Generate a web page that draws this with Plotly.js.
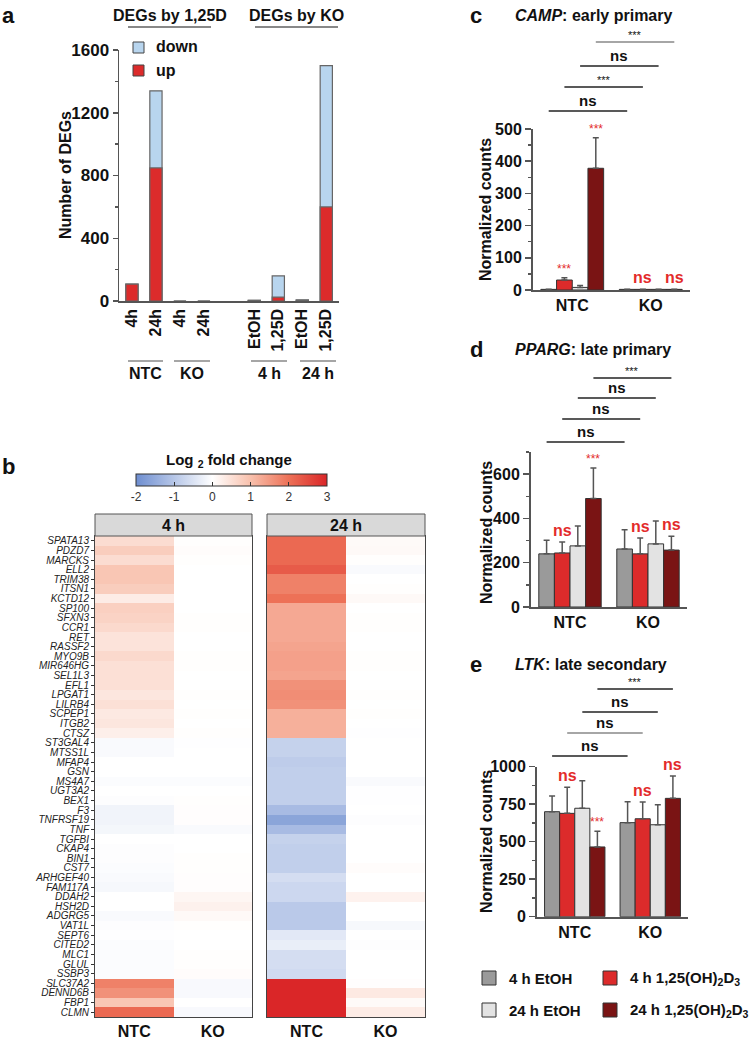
<!DOCTYPE html>
<html><head><meta charset="utf-8">
<script src="https://cdn.plot.ly/plotly-3.0.1.min.js"></script>
<style>html,body{margin:0;padding:0;background:#fff}#chart{width:751px;height:1041px}</style>
</head><body><div id="chart"></div>
<script>
// ---------------- DATA ----------------
// Panel a: number of DEGs
const degLabels = ['4h', '24h', '4h', '24h', 'EtOH', '1,25D', 'EtOH', '1,25D'];
const degUp   = [108, 848, 0, 0, 3, 25, 4, 600];
const degDown = [0, 492, 0, 0, 2, 135, 4, 900];
const degSeries = ['down', 'up'];
const degTopGroups = ['DEGs by 1,25D', 'DEGs by KO'];
const degBottomGroups = ['NTC', 'KO', '4 h', '24 h'];

// Panel b: log2 fold change heatmap
const genes = ['SPATA13','PDZD7','MARCKS','ELL2','TRIM38','ITSN1','KCTD12','SP100','SFXN3','CCR1',
  'RET','RASSF2','MYO9B','MIR646HG','SEL1L3','EFL1','LPGAT1','LILRB4','SCPEP1','ITGB2','CTSZ',
  'ST3GAL4','MTSS1L','MFAP4','GSN','MS4A7','UGT3A2','BEX1','F3','TNFRSF19','TNF','TGFBI','CKAP4',
  'BIN1','CST7','ARHGEF40','FAM117A','DDAH2','HSH2D','ADGRG5','VAT1L','SEPT6','CITED2','MLC1',
  'GLUL','SSBP3','SLC37A2','DENND6B','FBP1','CLMN'];
const lfc4hNTC = [0.55,0.8,0.55,0.9,0.9,0.8,0.3,0.75,0.7,0.6,
  0.45,0.45,0.6,0.5,0.5,0.5,0.4,0.5,0.35,0.4,0.25,
  -0.08,-0.08,0,0,-0.05,0,-0.03,-0.2,-0.2,-0.15,0,-0.03,
  -0.03,-0.05,-0.08,-0.12,0,0,-0.08,-0.03,-0.02,-0.05,-0.05,
  -0.05,-0.05,1.8,1.6,0.9,2.1];
const lfc4hKO = [0.02,0.05,0.02,0,0,0,0,0,0.02,0.02,
  0,0,0.02,0.02,0,0,0.02,0,0.02,0,0.02,
  -0.02,0,0,0,-0.05,0,0.02,0.03,0.03,-0.08,0,0,
  0.02,0.02,0.03,0.03,0.15,0.22,0.1,0.02,0,0,0.02,
  0.02,0.05,-0.1,-0.1,0,-0.1];
const lfc24hNTC = [2.1,2.1,2.1,2.3,1.8,1.8,2.0,1.3,1.3,1.3,
  1.3,1.35,1.4,1.4,1.35,1.6,1.65,1.6,1.2,1.2,1.2,
  -0.8,-0.8,-0.9,-0.85,-0.85,-0.85,-0.85,-1.2,-1.6,-1.2,-0.8,-0.85,
  -0.85,-0.85,-0.6,-0.7,-0.7,-0.95,-0.95,-0.95,-0.4,-0.3,-0.6,
  -0.6,-0.65,3.0,3.0,3.0,3.0];
const lfc24hKO = [0.08,0.1,0.02,-0.08,0,0.02,0.1,0,0.02,0.02,
  0,0,0.02,0.02,0,0,0.02,0,0.02,0,-0.02,
  0,0,0,0,-0.08,-0.02,-0.02,0,-0.03,0,0,0,
  0,0.05,0,0,0.2,0,0,-0.12,0,-0.03,0,
  0,0,0.03,0.35,0.08,0.3];
const hmCols = ['NTC', 'KO'];
const hmFacets = ['4 h', '24 h'];
const lfcTicks = [-2, -1, 0, 1, 2, 3];
const lfcTickText = ['-2', '-1', '0', '1', '2', '3'];
const lfcTitle = 'Log <sub>2</sub> fold change';

// Panels c-e: normalized counts
const groups = ['NTC', 'KO'];
const conditions = ['4 h EtOH', '4 h 1,25(OH)<sub>2</sub>D<sub>3</sub>', '24 h EtOH', '24 h 1,25(OH)<sub>2</sub>D<sub>3</sub>'];
const campNTC = [2, 31, 8, 378];
const campNTCerr = [0, 7, 6, 95];
const campKO = [2, 2, 2, 2];
const campKOerr = [0, 0, 0, 0];
const campPairSig = ['ns', '***', 'ns', '***'];
const campSigNTC = [null, '***', null, '***'];
const campSigKO = [null, 'ns', null, 'ns'];

const ppargNTC = [240, 244, 276, 490];
const ppargNTCerr = [62, 50, 90, 138];
const ppargKO = [262, 240, 285, 257];
const ppargKOerr = [87, 72, 103, 63];
const ppargPairSig = ['ns', 'ns', 'ns', '***'];
const ppargSigNTC = [null, 'ns', null, '***'];
const ppargSigKO = [null, 'ns', null, 'ns'];

const ltkNTC = [700, 689, 723, 465];
const ltkNTCerr = [105, 174, 184, 104];
const ltkKO = [627, 653, 613, 789];
const ltkKOerr = [140, 112, 134, 149];
const ltkPairSig = ['ns', 'ns', 'ns', '***'];
const ltkSigNTC = [null, 'ns', null, '***'];
const ltkSigKO = [null, 'ns', null, 'ns'];

// ---------------- STYLE / LAYOUT ----------------
const FONT = 'Liberation Sans, Arial, sans-serif';
const W = 751, H = 1041;
const px = v => v / W, py = v => 1 - v / H;
const AX = '#555';
const condColors = ['#9a9a9a', '#dc2b2b', '#e3e3e3', '#7a1414'];
const degColors = {down: '#b8d5ee', up: '#dc2b2b'};
const RED = '#e32b2b';

const traces = [];
const annotations = [];
const shapes = [];
const layout = {
  width: W, height: H, margin: {l: 0, r: 0, t: 0, b: 0},
  paper_bgcolor: '#fff', plot_bgcolor: 'rgba(0,0,0,0)',
  barmode: 'overlay', showlegend: false,
  font: {family: FONT, color: '#111'},
  annotations, shapes
};

function ann(x, y, text, opt) {
  annotations.push(Object.assign({
    xref: 'paper', yref: 'paper', x: px(x), y: py(y), text, showarrow: false,
    xanchor: 'center', yanchor: 'middle', font: {family: FONT, size: 15, color: '#111'}
  }, opt || {}));
}
function line(x0, y0, x1, y1, color, width) {
  shapes.push({type: 'line', xref: 'paper', yref: 'paper', x0: px(x0), x1: px(x1), y0: py(y0), y1: py(y1),
    line: {color: color || '#222', width: width || 1.5}});
}
function rect(x0, y0, x1, y1, fill, lineColor) {
  shapes.push({type: 'rect', xref: 'paper', yref: 'paper', x0: px(x0), x1: px(x1), y0: py(y1), y1: py(y0),
    fillcolor: fill, line: {color: lineColor || '#333', width: 1}});
}

// ---------- Panel a ----------
const degPos = degLabels.map((_, i) => i < 4 ? i : i + 1.1);
const degTotal = degUp.map((u, i) => u + degDown[i]);
traces.push({type: 'bar', x: degPos, y: degTotal, name: degSeries[0], width: 0.51, xaxis: 'x', yaxis: 'y',
  marker: {color: degColors.down, line: {color: '#666', width: 1.2}}});
traces.push({type: 'bar', x: degPos, y: degUp, name: degSeries[1], width: 0.51, xaxis: 'x', yaxis: 'y',
  marker: {color: degColors.up, line: {color: '#666', width: 1.2}}});
layout.xaxis = {domain: [px(119), px(339)], range: [-0.54, 8.63], tickvals: degPos, ticktext: degLabels,
  tickangle: -90, tickfont: {size: 16, weight: 'bold', family: FONT}, ticks: '', showline: true,
  linecolor: AX, linewidth: 1.5, zeroline: false, showgrid: false, anchor: 'y'};
layout.yaxis = {domain: [py(301), py(50)], range: [0, 1600], dtick: 400, ticks: 'outside', ticklen: 5,
  tickwidth: 1.5, tickcolor: AX, showline: true, linecolor: AX, linewidth: 1.5, zeroline: false,
  showgrid: false, tickfont: {size: 17, weight: 'bold', family: FONT}, anchor: 'x',
  minor: {ticks: 'outside', ticklen: 3, dtick: 200, tickcolor: AX, tickwidth: 1.5, showgrid: false}};
ann(0, 15, '<b>a</b>', {xanchor: 'left', font: {family: FONT, size: 22, color: '#111'}});
ann(65, 175, '<b>Number of DEGs</b>', {textangle: -90, font: {family: FONT, size: 16, color: '#111'}});
ann(170, 15, '<b>' + degTopGroups[0] + '</b>', {font: {family: FONT, size: 16, color: '#111'}});
ann(296, 15, '<b>' + degTopGroups[1] + '</b>', {font: {family: FONT, size: 16, color: '#111'}});
line(128, 27, 211, 27, '#888', 2);
line(255, 27, 338, 27, '#888', 2);
[[128, 163], [174, 210], [251, 287], [300, 336]].forEach((s, i) => {
  line(s[0], 361, s[1], 361, '#888', 1.5);
  ann((s[0] + s[1]) / 2, 373, '<b>' + degBottomGroups[i] + '</b>', {font: {family: FONT, size: 16, color: '#111'}});
});
rect(133, 42, 144, 53, degColors.down, '#444');
rect(133, 65, 144, 76, degColors.up, '#444');
ann(154, 47, '<b>' + degSeries[0] + '</b>', {xanchor: 'left', font: {family: FONT, size: 16, color: '#111'}});
ann(154, 71, '<b>' + degSeries[1] + '</b>', {xanchor: 'left', font: {family: FONT, size: 16, color: '#111'}});

// ---------- Panel b ----------
const lfcScale = [[0, 'rgb(110,142,208)'], [0.4, 'rgb(255,255,255)'], [0.6, 'rgb(248,192,172)'],
  [0.8, 'rgb(237,113,87)'], [1, 'rgb(218,38,40)']];
const hmData = [[lfc4hNTC, lfc4hKO], [lfc24hNTC, lfc24hKO]];
const hmX = [[95, 252], [267, 425]];
hmData.forEach((d, f) => {
  const xa = 'x' + (f + 2), ya = 'y' + (f + 2);
  traces.push({type: 'heatmap', x: hmCols, y: genes, z: genes.map((g, i) => [d[0][i], d[1][i]]),
    xaxis: xa, yaxis: ya, zmin: -2, zmax: 3, colorscale: lfcScale, showscale: f === 0,
    colorbar: {orientation: 'h', x: px(231.5), xanchor: 'center', y: py(474), yanchor: 'top',
      len: 191, lenmode: 'pixels', thickness: 12, thicknessmode: 'pixels', xpad: 0, ypad: 0,
      outlinecolor: '#333', outlinewidth: 1, ticks: 'inside', ticklen: 4, tickcolor: '#333',
      tickmode: 'array', tickvals: lfcTicks, ticktext: lfcTickText,
      tickfont: {size: 12, color: '#333', family: FONT}}});
  layout['xaxis' + (f + 2)] = {domain: [px(hmX[f][0]), px(hmX[f][1])], anchor: ya, ticks: '',
    tickfont: {size: 16, weight: 'bold', family: FONT}, showline: true, mirror: true, linecolor: '#444',
    linewidth: 1, showgrid: false, zeroline: false};
  layout['yaxis' + (f + 2)] = {domain: [py(1017), py(536)], anchor: xa, type: 'category',
    autorange: 'reversed', showline: true, mirror: true, linecolor: '#444', linewidth: 1,
    showgrid: false, zeroline: false, showticklabels: f === 0, ticks: f === 0 ? 'outside' : '',
    tickmode: 'array', tickvals: genes, ticktext: genes,
    ticklen: 3, tickcolor: '#333', tickfont: {size: 10, style: 'italic', family: FONT, color: '#222'}};
  rect(hmX[f][0], 514, hmX[f][1], 536, '#d9d9d9', '#555');
  ann((hmX[f][0] + hmX[f][1]) / 2, 525, '<b>' + hmFacets[f] + '</b>', {font: {family: FONT, size: 16, color: '#111'}});
});
ann(0, 466, '<b>b</b>', {xanchor: 'left', font: {family: FONT, size: 22, color: '#111'}});
ann(229, 460, '<b>' + lfcTitle + '</b>', {font: {family: FONT, size: 15, color: '#111'}});

// ---------- Panels c-e ----------
const panels = [
  {letter: 'c', gene: 'CAMP', desc: 'early primary', ntc: campNTC, ntcErr: campNTCerr, ko: campKO, koErr: campKOerr,
   pair: campPairSig, sigN: campSigNTC, sigK: campSigKO, ax: 4, xd: [533, 690], yd: [290, 129], range: [0, 500],
   dtick: 100, minor: 50, titleY: 15, ytitleY: 210, brY: [111, 87, 66, 42], brC: ['#222', '#222', '#222', '#888']},
  {letter: 'd', gene: 'PPARG', desc: 'late primary', ntc: ppargNTC, ntcErr: ppargNTCerr, ko: ppargKO, koErr: ppargKOerr,
   pair: ppargPairSig, sigN: ppargSigNTC, sigK: ppargSigKO, ax: 5, xd: [531, 687], yd: [607, 452], range: [0, 700],
   dtick: 200, minor: 100, titleY: 349, ytitleY: 533, brY: [442, 419, 398, 378], brC: ['#222', '#222', '#222', '#222']},
  {letter: 'e', gene: 'LTK', desc: 'late secondary', ntc: ltkNTC, ntcErr: ltkNTCerr, ko: ltkKO, koErr: ltkKOerr,
   pair: ltkPairSig, sigN: ltkSigNTC, sigK: ltkSigKO, ax: 6, xd: [537, 688], yd: [916.7, 766.7], range: [0, 1000],
   dtick: 250, minor: 125, titleY: 664, ytitleY: 842, brY: [756, 733, 712, 689], brC: ['#222', '#888', '#222', '#222']}
];
const BW = 0.2;
panels.forEach(p => {
  const xa = 'x' + p.ax, ya = 'y' + p.ax;
  conditions.forEach((c, k) => {
    traces.push({type: 'bar', name: c, x: groups, y: [p.ntc[k], p.ko[k]], xaxis: xa, yaxis: ya,
      width: BW, offset: -2 * BW + k * BW,
      marker: {color: condColors[k], line: {color: '#333', width: 1}},
      error_y: {type: 'data', symmetric: false, array: [p.ntcErr[k], p.koErr[k]], arrayminus: [0, 0],
        color: '#555', thickness: 1.5, width: 3}});
    const xc = -1.5 * BW + k * BW;
    [[p.sigN[k], xc, p.ntc[k] + p.ntcErr[k]], [p.sigK[k], xc + 1, p.ko[k] + p.koErr[k]]].forEach(s => {
      if (!s[0]) return;
      const star = s[0] === '***';
      annotations.push({xref: xa, yref: ya, x: s[1], y: s[2], text: star ? s[0] : '<b>' + s[0] + '</b>',
        showarrow: false, xanchor: 'center', yanchor: 'bottom', yshift: star ? 0 : 1,
        font: {family: FONT, size: star ? 12 : 16, color: RED}});
    });
    // bracket NTC vs KO for this condition
    const yb = p.brY[k];
    shapes.push({type: 'line', xref: xa, yref: 'paper', x0: xc, x1: xc + 1, y0: py(yb), y1: py(yb),
      line: {color: p.brC[k], width: 1.5}});
    const star = p.pair[k] === '***';
    annotations.push({xref: xa, yref: 'paper', x: xc + 0.5, y: py(yb), text: star ? p.pair[k] : '<b>' + p.pair[k] + '</b>',
      showarrow: false, xanchor: 'center', yanchor: 'bottom', yshift: star ? -1 : 0,
      font: {family: FONT, size: star ? 11 : 15, color: '#111'}});
  });
  layout['xaxis' + p.ax] = {domain: [px(p.xd[0]), px(p.xd[1])], anchor: ya, type: 'category', range: [-0.5, 1.5],
    ticks: '', showline: true, linecolor: AX, linewidth: 2, showgrid: false, zeroline: false,
    tickfont: {size: 16, weight: 'bold', family: FONT}};
  layout['yaxis' + p.ax] = {domain: [py(p.yd[0]), py(p.yd[1])], anchor: xa, range: p.range, dtick: p.dtick,
    ticks: 'outside', ticklen: 6, tickwidth: 1.5, tickcolor: AX, showline: true, linecolor: AX, linewidth: 2,
    showgrid: false, zeroline: false, tickfont: {size: 16, weight: 'bold', family: FONT},
    minor: {ticks: 'outside', ticklen: 3, dtick: p.minor, tickcolor: AX, tickwidth: 1.5, showgrid: false}};
  ann(468, p.titleY, '<b>' + p.letter + '</b>', {xanchor: 'left', font: {family: FONT, size: 22, color: '#111'}});
  ann(513, p.titleY, '<b><i>' + p.gene + '</i>: ' + p.desc + '</b>', {xanchor: 'left', font: {family: FONT, size: 16, color: '#111'}});
  ann(486, p.ytitleY, '<b>Normalized counts</b>', {textangle: -90, font: {family: FONT, size: 16, color: '#111'}});
});

// legend (bottom right)
const legPos = [[482, 978], [603, 978], [482, 1010], [603, 1010]];
conditions.forEach((c, k) => {
  const [x, y] = legPos[k];
  rect(x, y - 7, x + 14, y + 7, condColors[k], '#333');
  ann(x + 25, y, '<b>' + c + '</b>', {xanchor: 'left', font: {family: FONT, size: 15, color: '#111'}});
});

Plotly.newPlot('chart', traces, layout, {displayModeBar: false, staticPlot: true});
</script></body></html>
